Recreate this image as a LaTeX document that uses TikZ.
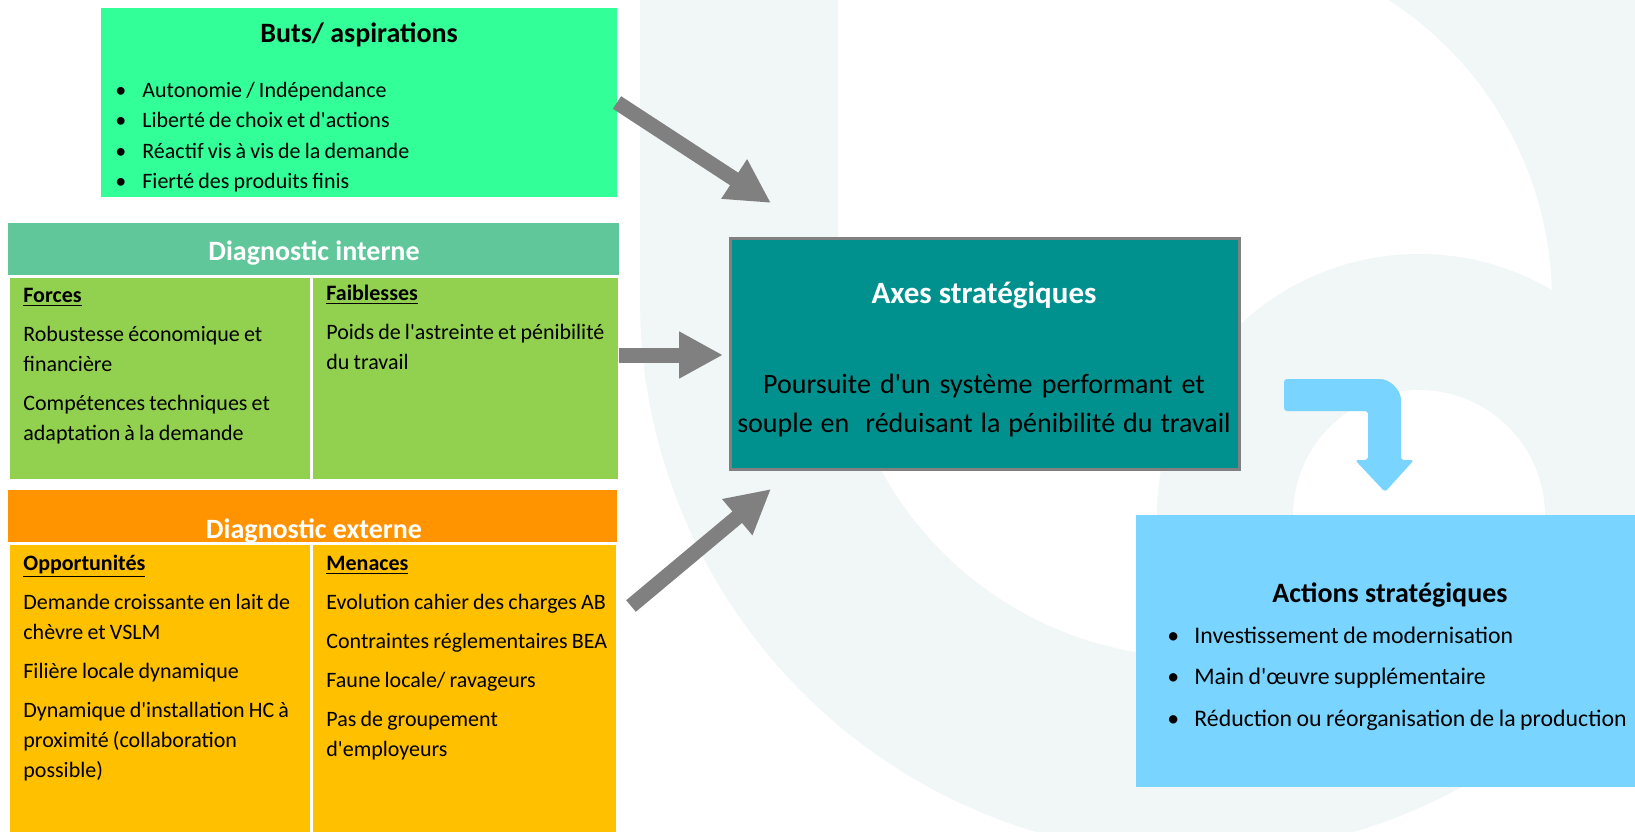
\documentclass[tikz,border=0pt]{standalone}
\usepackage{fontspec}
\setmainfont{Carlito}
\newfontfamily\plainfont{Carlito}
\usetikzlibrary{arrows.meta, fit, positioning}
\definecolor{fond}{RGB}{241,246,246}
\definecolor{vertbuts}{RGB}{51,255,153}
\definecolor{vertint}{RGB}{96,199,155}
\definecolor{vertcell}{RGB}{146,208,80}
\definecolor{orangeext}{RGB}{255,148,0}
\definecolor{jauneext}{RGB}{255,192,0}
\definecolor{petrole}{RGB}{0,145,143}
\definecolor{bleuact}{RGB}{121,213,255}
\definecolor{pfeilgris}{RGB}{128,128,128}
\newcommand{\puce}{\makebox[13.5pt][l]{\textbullet}}
\newcommand{\apos}{{\plainfont'}}
\newcommand{\tightspace}{\spaceskip=0.19em plus 0.1em minus 0.03em\relax}

\begin{document}
\begin{tikzpicture}[x=0.5pt, y=-0.5pt,
    plainbox/.style={inner sep=0pt, outer sep=0pt},
    cellbox/.style={plainbox, draw=white, line width=1.5pt},
    grayarrow/.style={pfeilgris, line width=7.5pt, -{Triangle[length=22pt, width=22pt]}},
    bodytext/.style={inner sep=0pt, anchor=base west, align=left, text width=#1, font=\fontsize{11}{15}\selectfont, execute at begin node=\tightspace},
    boxtitle/.style={inner sep=0pt, anchor=base, font=\fontsize{14}{18}\selectfont\bfseries}]

    \useasboundingbox (0,0) rectangle (1635,831);
    \clip (0,0) rectangle (1635,831);
    \fill[white] (0,0) rectangle (1635,831);

    % background logo
    \fill[fond] (640,0) -- (640,300) arc[start angle=180, end angle=-60, radius=555]
        -- (1373.5,-9.2) arc[start angle=-60, end angle=180, radius=357] -- (838,0) -- cycle;
    \fill[fond] (1419,516) circle[radius=262];
    \fill[white] (1419,516) circle[radius=126];

    % buts
    \node[plainbox, fill=vertbuts, fit={(101,8) (617,197)}] (buts) {};
    \node[boxtitle] at (359,42) {Buts/ aspirations};
    \node[bodytext=240pt, font=\fontsize{11}{15.25}\selectfont] at (115,97) {\puce Autonomie / Indépendance\\ \puce Liberté de choix et d\apos actions\\ \puce Réactif vis à vis de la demande\\ \puce Fierté des produits finis};

    % diagnostic interne
    \node[plainbox, fill=vertint, fit={(8,223) (619,276)}] (dinth) {};
    \node[cellbox, fill=vertcell, fit={(8,276) (311,480)}] (forces) {};
    \node[cellbox, fill=vertcell, fit={(311,276) (619,480)}] (faibl) {};
    \node[boxtitle, white] at (314,260) {Diagnostic interne};
    \node[bodytext=150pt] at (23,302) {\underline{\textbf{Forces}}\\[4.5pt] Robustesse économique et\\ financière\\[4.5pt] Compétences techniques et\\ adaptation à la demande};
    \node[bodytext=150pt] at (326,300) {\underline{\textbf{Faiblesses}}\\[4.5pt] Poids de l\apos astreinte et pénibilité\\ du travail};

    % diagnostic externe
    \node[plainbox, fill=orangeext, fit={(8,490) (617,543)}] (dexth) {};
    \node[cellbox, fill=jauneext, fit={(8,543) (311,836)}] (opport) {};
    \node[cellbox, fill=jauneext, fit={(311,543) (617,836)}] (menaces) {};
    \node[boxtitle, white] at (314,538) {Diagnostic externe};
    \node[bodytext=150pt] at (23,570) {\underline{\textbf{Opportunités}}\\[4.5pt] Demande croissante en lait de\\ chèvre et VSLM\\[4.5pt] Filière locale dynamique\\[4.5pt] Dynamique d\apos installation HC à\\ proximité (collaboration\\ possible)};
    \node[bodytext=150pt] at (326,570) {\underline{\textbf{Menaces}}\\[4.5pt] Evolution cahier des charges AB\\[4.5pt] Contraintes réglementaires BEA\\[4.5pt] Faune locale/ ravageurs\\[4.5pt] Pas de groupement\\ d\apos employeurs};

    % axes
    \node[plainbox, fill=petrole, draw=pfeilgris, line width=1.5pt, fit={(730,238) (1239,469)}] (axes) {};
    \node[boxtitle, white, font=\fontsize{15.5}{19}\selectfont\bfseries] at (984,303) {Axes stratégiques};
    \node[inner sep=0pt, anchor=base, align=center, text width=300pt, font=\fontsize{14}{19.5}\selectfont, execute at begin node=\tightspace] at (984,393) {Poursuite d\apos un système performant et\\ souple en\ \ réduisant la pénibilité du travail};

    % actions
    \node[plainbox, fill=bleuact, fit={(1136,515) (1640,787)}] (actions) {};
    \node[boxtitle] at (1390,602) {Actions stratégiques};
    \node[bodytext=260pt, font=\fontsize{11.9}{20.75}\selectfont] at (1167,643) {\puce Investissement de modernisation\\ \puce Main d\apos œuvre supplémentaire\\ \puce Réduction ou réorganisation de la production};

    % arrows
    \coordinate (tipA) at (771,203);
    \coordinate (tipB) at (723,355);
    \coordinate (tailC) at (631,606);
    \coordinate (tipC) at (771,489);
    \draw[grayarrow] (buts.east) -- (tipA);
    \draw[grayarrow] (faibl.east |- tipB) -- (tipB);
    \draw[grayarrow] (tailC) -- (tipC);

    \fill[bleuact, rounded corners=1.5pt] (1284,379) -- (1377,379) .. controls (1390,379) and (1401,390) .. (1401,403)
        -- (1401,460) -- (1414,460) -- (1385,492) -- (1355,460) -- (1368,460) -- (1368,411) -- (1284,411) -- cycle;

\end{tikzpicture}
\end{document}
